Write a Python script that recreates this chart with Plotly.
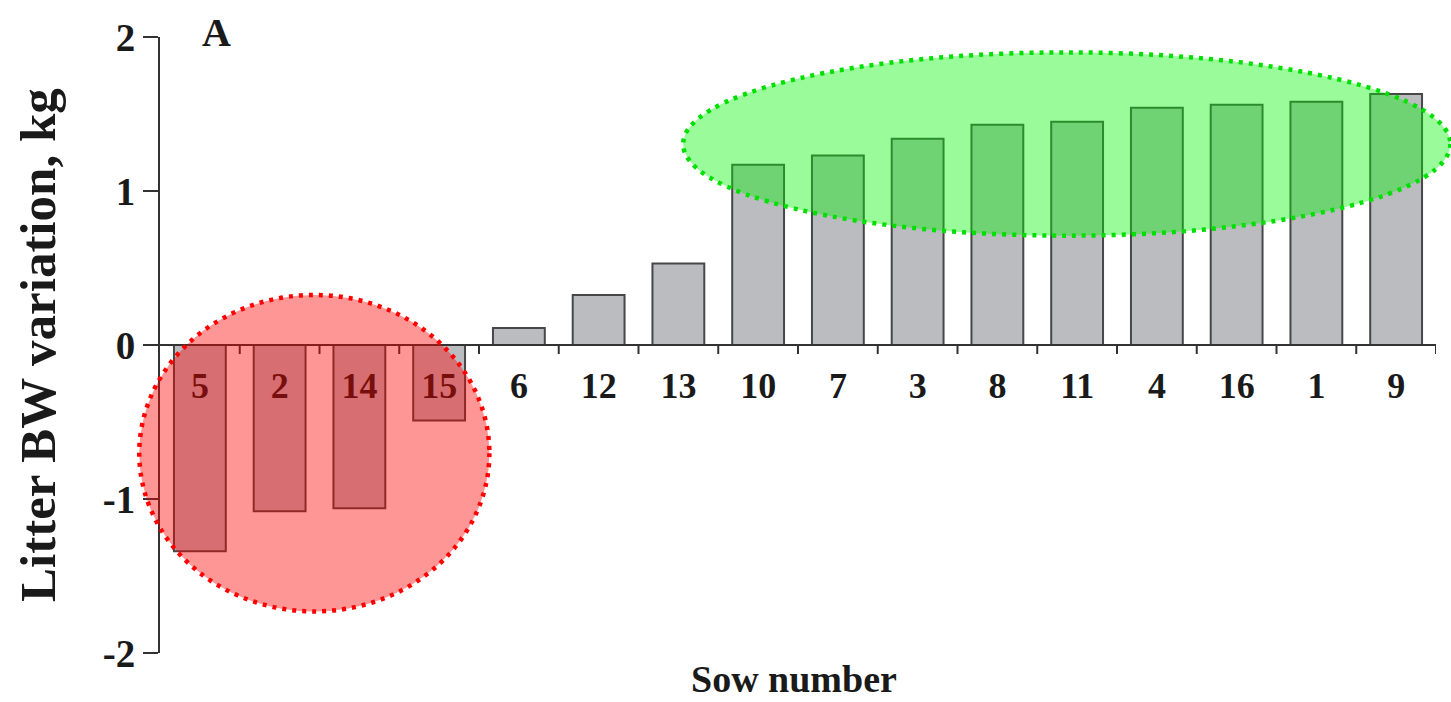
import plotly.graph_objects as go

# Litter body-weight variation per sow, sorted from lowest to highest
sows = ["5", "2", "14", "15", "6", "12", "13", "10", "7", "3", "8", "11", "4", "16", "1", "9"]
bw_variation = [-1.34, -1.08, -1.06, -0.49, 0.11, 0.325, 0.53, 1.17, 1.23, 1.34,
                1.43, 1.45, 1.54, 1.56, 1.58, 1.63]
y_ticks = [-2, -1, 0, 1, 2]

# Highlight regions in data units: (x0, x1, y0, y1) with x as category index
low_group = (-0.76, 3.63, -1.73, 0.325)
high_group = (6.06, 15.68, 0.71, 1.90)

X_RANGE = (-0.5, len(sows) - 0.5)
Y_RANGE = (-2, 2)

FONT = "Liberation Serif"
AXIS_COLOR = "#333333"


def to_paper_x(v):
    return (v - X_RANGE[0]) / (X_RANGE[1] - X_RANGE[0])


def to_paper_y(v):
    return (v - Y_RANGE[0]) / (Y_RANGE[1] - Y_RANGE[0])


fig = go.Figure(
    go.Bar(
        x=list(range(len(sows))),
        y=bw_variation,
        marker=dict(color="#bbbcc0", line=dict(color="#474747", width=2)),
        hoverinfo="skip",
    )
)

fig.update_layout(
    width=1451,
    height=702,
    margin=dict(l=160, r=15, t=37, b=49),
    paper_bgcolor="white",
    plot_bgcolor="white",
    bargap=0.35,
    showlegend=False,
    font=dict(family=FONT, color="#1a1a1a"),
    xaxis=dict(
        range=list(X_RANGE),
        tickmode="array",
        tickvals=list(range(len(sows))),
        ticktext=sows,
        anchor="free",
        position=to_paper_y(0),
        showline=True,
        linecolor=AXIS_COLOR,
        linewidth=2,
        ticks="",
        tickfont=dict(family=FONT, size=36, weight="bold", color="#1a1a1a"),
        ticklabelstandoff=9,
        showgrid=False,
        zeroline=False,
        fixedrange=True,
    ),
    yaxis=dict(
        range=list(Y_RANGE),
        tickmode="array",
        tickvals=y_ticks,
        ticktext=[str(t) for t in y_ticks],
        showline=True,
        linecolor=AXIS_COLOR,
        linewidth=2,
        ticks="outside",
        ticklen=15,
        tickwidth=2,
        tickcolor=AXIS_COLOR,
        tickfont=dict(family=FONT, size=39, weight="bold", color="#1a1a1a"),
        showgrid=False,
        zeroline=False,
        fixedrange=True,
    ),
)

# Short tick marks below the zero line, on the category boundaries
tick_depth = 9 * (Y_RANGE[1] - Y_RANGE[0]) / 616
boundary_ticks = [i + 0.5 for i in range(len(sows) - 1)] + [X_RANGE[1]]
for b in boundary_ticks:
    fig.add_shape(
        type="line", xref="x", yref="y",
        x0=b, x1=b, y0=0, y1=-tick_depth,
        line=dict(color=AXIS_COLOR, width=2),
    )

# Translucent ellipses marking the low and high responders
for (x0, x1, y0, y1), fill, edge in [
    (low_group, "rgba(255,0,0,0.41)", "#ff0000"),
    (high_group, "rgba(0,245,0,0.40)", "#00e000"),
]:
    fig.add_shape(
        type="circle", xref="paper", yref="paper", layer="above",
        x0=to_paper_x(x0), x1=to_paper_x(x1),
        y0=to_paper_y(y0), y1=to_paper_y(y1),
        fillcolor=fill,
        line=dict(color=edge, width=4.5, dash="4px,6px"),
    )

fig.add_annotation(
    text="Litter BW variation, kg", textangle=-90,
    xref="paper", yref="paper", x=-0.0956, y=0.5,
    xanchor="center", yanchor="middle", showarrow=False,
    font=dict(family=FONT, size=51, weight="bold", color="#1a1a1a"),
)
fig.add_annotation(
    text="Sow number",
    xref="paper", yref="paper", x=0.497, y=-0.043,
    xanchor="center", yanchor="middle", showarrow=False,
    font=dict(family=FONT, size=38, weight="bold", color="#1a1a1a"),
)
fig.add_annotation(
    text="A",
    xref="paper", yref="paper", x=0.044, y=1.008,
    xanchor="center", yanchor="middle", showarrow=False,
    font=dict(family=FONT, size=40, weight="bold", color="#1a1a1a"),
)

fig.write_html("out.html")
